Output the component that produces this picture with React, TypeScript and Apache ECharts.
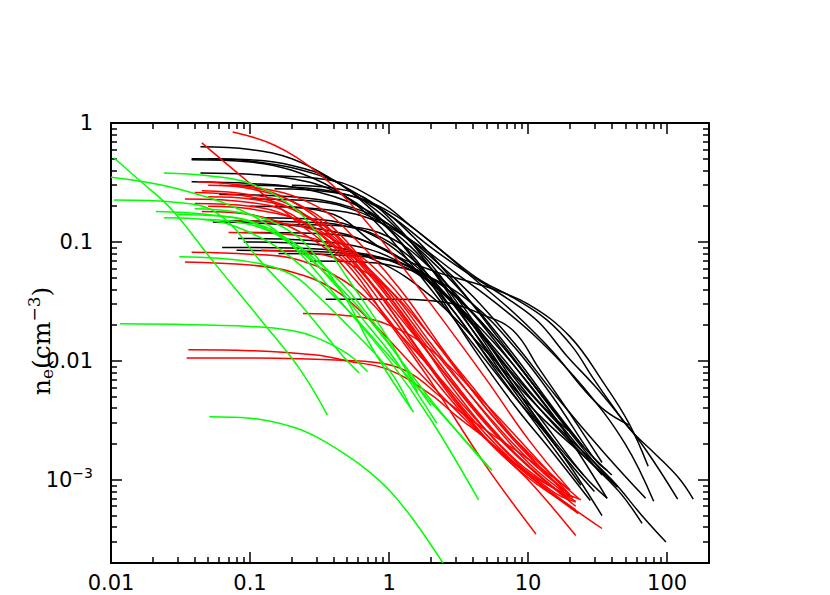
import React, { useEffect, useRef } from 'react';
import * as echarts from 'echarts';

type Pt = [number, number];

// Density profiles n_e(r): black group
const blackProfiles: Pt[][] = [
  [[0.044,0.63],[0.1,0.6],[0.2,0.5],[0.4,0.33],[0.7,0.21],[1,0.15],[2,0.065],[4,0.022],[8,0.0065],[15,0.0024],[25,0.0011],[37,0.0007]],
  [[0.038,0.5],[0.1,0.49],[0.2,0.44],[0.4,0.33],[0.7,0.2],[1,0.13],[2,0.045],[4,0.013],[8,0.0042],[15,0.0017],[28,0.00067]],
  [[0.038,0.49],[0.1,0.47],[0.2,0.4],[0.4,0.28],[0.7,0.17],[1,0.11],[2,0.04],[4,0.014],[8,0.005],[16,0.0019],[34,0.0005]],
  [[0.044,0.38],[0.1,0.37],[0.2,0.34],[0.4,0.27],[0.8,0.16],[1.5,0.075],[3,0.025],[6,0.0085],[12,0.0035],[25,0.0016],[44,0.00087]],
  [[0.12,0.36],[0.38,0.33],[0.86,0.217],[1.49,0.131],[2.6,0.078],[4.5,0.048],[7.8,0.034],[13.7,0.022],[21,0.013],[29,0.0073],[41,0.0041],[55,0.0026],[80,0.0017],[120,0.00105],[154,0.00069]],
  [[0.038,0.32],[0.1,0.31],[0.2,0.29],[0.5,0.22],[1,0.14],[2,0.07],[4,0.03],[8,0.011],[16,0.0037],[25,0.0019]],
  [[0.08,0.3],[0.2,0.29],[0.5,0.25],[1,0.18],[2,0.1],[4,0.05],[8,0.025],[15,0.012],[25,0.0058],[36,0.0038],[53,0.0029]],
  [[0.054,0.147],[0.1,0.145],[0.3,0.13],[0.7,0.1],[1.5,0.06],[3,0.03],[6,0.012],[12,0.0045],[19.5,0.0026]],
  [[0.082,0.107],[0.2,0.105],[0.5,0.095],[1,0.075],[2,0.045],[4,0.02],[8,0.0075],[17.7,0.0027]],
  [[0.063,0.09],[0.2,0.089],[0.5,0.083],[1,0.07],[2,0.045],[4,0.022],[8,0.009],[16,0.0032],[37,0.0007]],
  [[0.16,0.08],[0.4,0.078],[1,0.07],[2,0.05],[4,0.025],[8,0.01],[16,0.0035],[30,0.0014],[44,0.00087]],
  [[0.35,0.033],[1,0.033],[2.6,0.031],[4.5,0.025],[7.8,0.018],[12,0.0086],[20,0.0036],[34,0.0014]],
  [[0.27,0.069],[0.6,0.068],[1,0.064],[2,0.05],[4,0.03],[8,0.013],[15,0.005],[30,0.0015],[37,0.0012]],
  [[0.2,0.3],[0.5,0.27],[1,0.17],[2,0.09],[3.4,0.058],[7.8,0.031],[12,0.021],[19,0.011],[30,0.0062],[45,0.0035],[70,0.0018],[119,0.00069]],
  [[0.09,0.1],[0.3,0.095],[0.8,0.07],[2,0.035],[5,0.012],[10,0.005],[20,0.0022],[40,0.001],[66,0.0005],[98,0.0003]],
  [[0.12,0.16],[0.3,0.155],[0.7,0.12],[1.5,0.065],[3,0.03],[6,0.011],[12,0.004],[25,0.0016],[45,0.0008],[66,0.00043]],
  [[0.1,0.2],[0.3,0.19],[0.7,0.16],[1.5,0.1],[3,0.055],[6,0.03],[12,0.015],[25,0.006],[50,0.002],[80,0.00066]],
  [[0.06,0.25],[0.2,0.24],[0.5,0.2],[1,0.14],[2,0.075],[4,0.035],[8,0.014],[16,0.005],[35,0.0017],[70,0.0007]],
  [[0.15,0.2],[0.4,0.17],[0.86,0.09],[2,0.058],[5,0.042],[10,0.03],[20,0.016],[35,0.0065],[53,0.003],[73,0.0013]],
  [[0.1,0.23],[0.3,0.22],[0.6,0.18],[1,0.13],[2,0.06],[4,0.02],[8,0.006],[15,0.0022],[25,0.0011]],
  [[0.07,0.15],[0.2,0.148],[0.5,0.135],[1,0.1],[2,0.05],[4,0.018],[8,0.006],[16,0.0019],[30,0.0008]],
  [[0.09,0.12],[0.3,0.118],[0.7,0.1],[1.5,0.06],[3,0.025],[6,0.008],[12,0.0027],[24,0.0009]],
  [[0.15,0.28],[0.4,0.26],[0.8,0.2],[1.5,0.11],[3,0.045],[6,0.016],[12,0.0055],[25,0.0019],[40,0.0011]],
  [[0.2,0.14],[0.5,0.135],[1,0.11],[2,0.06],[4,0.025],[8,0.009],[16,0.0032],[34,0.0011]],
  [[0.05,0.5],[0.1,0.48],[0.3,0.37],[0.6,0.25],[1,0.16],[2,0.06],[4,0.018],[8,0.0055],[16,0.0019]],
  [[0.08,0.085],[0.3,0.083],[0.8,0.075],[1.5,0.06],[3,0.035],[6,0.015],[12,0.0055],[20,0.0026]],
];

// red group
const redProfiles: Pt[][] = [
  [[0.075,0.84],[0.15,0.65],[0.3,0.39],[0.5,0.225],[1,0.086],[2,0.03],[5,0.007],[10,0.0022],[20,0.00082]],
  [[0.045,0.68],[0.1,0.31],[0.2,0.16],[0.5,0.065],[1,0.021],[2,0.0067],[5,0.0013],[11.4,0.00035]],
  [[0.036,0.0124],[0.1,0.0122],[0.3,0.0112],[0.5,0.01],[1,0.0084],[2,0.0052],[3,0.0035],[5,0.0022],[10,0.0011],[22,0.00056]],
  [[0.035,0.0106],[0.1,0.0106],[0.5,0.0101],[1,0.0093],[1.5,0.0076],[2.5,0.0047],[5,0.0026],[10,0.0015],[20,0.00082]],
  [[0.24,0.025],[0.5,0.024],[1,0.02],[2,0.0124],[5,0.0043],[10,0.0018],[20,0.00075]],
  [[0.038,0.082],[0.1,0.079],[0.2,0.073],[0.4,0.053],[0.7,0.033],[1,0.021],[2,0.0087],[5,0.0026],[10,0.0012],[22,0.00066]],
  [[0.034,0.068],[0.1,0.064],[0.2,0.056],[0.4,0.04],[0.7,0.023],[1,0.015],[2,0.0063],[5,0.0022],[12,0.001],[24,0.00068]],
  [[0.042,0.32],[0.1,0.29],[0.2,0.22],[0.4,0.12],[0.7,0.06],[1,0.038],[2,0.013],[5,0.0036],[10,0.0015],[20,0.00075]],
  [[0.04,0.26],[0.1,0.24],[0.2,0.19],[0.4,0.11],[0.7,0.055],[1,0.033],[2,0.011],[5,0.0029],[10,0.0013],[22,0.0006]],
  [[0.034,0.23],[0.1,0.215],[0.2,0.17],[0.5,0.07],[1,0.025],[2,0.0085],[5,0.0024],[10,0.0011],[23,0.00052]],
  [[0.05,0.2],[0.1,0.19],[0.3,0.13],[0.6,0.06],[1,0.03],[2,0.011],[5,0.003],[10,0.0013],[20,0.00068]],
  [[0.045,0.18],[0.1,0.17],[0.3,0.1],[0.6,0.045],[1,0.022],[2,0.0075],[5,0.0022],[10,0.0011],[20,0.0006],[34,0.00039]],
  [[0.06,0.3],[0.1,0.28],[0.2,0.22],[0.4,0.13],[0.8,0.05],[1.5,0.018],[3,0.0055],[7,0.0017],[15,0.0008],[22,0.00065]],
  [[0.045,0.27],[0.1,0.25],[0.2,0.2],[0.5,0.08],[1,0.028],[2,0.009],[5,0.0022],[10,0.001],[22,0.00034]],
  [[0.08,0.15],[0.2,0.14],[0.5,0.09],[1,0.045],[2,0.016],[5,0.004],[10,0.0016],[21,0.0007]],
  [[0.04,0.21],[0.1,0.2],[0.2,0.16],[0.4,0.095],[0.8,0.04],[1.5,0.014],[3,0.0045],[8,0.0013],[18,0.00065]],
  [[0.05,0.24],[0.1,0.23],[0.3,0.15],[0.6,0.07],[1,0.035],[2,0.012],[4,0.0042],[8,0.0017],[19,0.0007]],
  [[0.12,0.085],[0.3,0.08],[0.6,0.06],[1,0.04],[2,0.016],[4,0.006],[8,0.0022],[18,0.0008]],
  [[0.07,0.12],[0.2,0.115],[0.5,0.08],[1,0.04],[2,0.014],[5,0.0035],[10,0.0014],[20,0.00072]],
  [[0.05,0.3],[0.1,0.29],[0.3,0.2],[0.6,0.1],[1.2,0.04],[2.5,0.012],[5,0.004],[10,0.0017],[23,0.0007]],
];

// green group
const greenProfiles: Pt[][] = [
  [[0.0105,0.51],[0.016,0.33],[0.027,0.19],[0.053,0.071],[0.12,0.022],[0.23,0.0084],[0.36,0.0035]],
  [[0.01,0.35],[0.03,0.28],[0.1,0.17],[0.2,0.094],[0.5,0.027],[1,0.0102],[2,0.0032],[4.4,0.00068]],
  [[0.024,0.38],[0.05,0.36],[0.1,0.31],[0.2,0.2],[0.3,0.12],[0.5,0.05],[1,0.015],[1.6,0.0055]],
  [[0.0105,0.225],[0.03,0.215],[0.06,0.17],[0.12,0.068],[0.23,0.03],[0.45,0.0115],[0.61,0.0079]],
  [[0.021,0.18],[0.05,0.17],[0.1,0.147],[0.2,0.094],[0.5,0.036],[1,0.0137],[2,0.0047],[5.1,0.0013]],
  [[0.024,0.16],[0.05,0.153],[0.1,0.12],[0.2,0.073],[0.5,0.027],[1,0.011],[2,0.0045],[5.5,0.0012]],
  [[0.031,0.075],[0.1,0.068],[0.2,0.053],[0.3,0.036],[0.5,0.02],[1,0.0084],[1.42,0.0041]],
  [[0.0116,0.0205],[0.1,0.0195],[0.2,0.018],[0.3,0.0157],[0.5,0.0115],[0.7,0.0081]],
  [[0.051,0.0034],[0.1,0.0033],[0.2,0.0028],[0.3,0.0023],[0.5,0.0016],[0.7,0.0012],[1,0.00082],[1.5,0.00046],[2.44,0.0002]],
  [[0.03,0.17],[0.06,0.165],[0.1,0.15],[0.2,0.1],[0.4,0.045],[0.7,0.02],[1,0.012],[1.5,0.006],[2.2,0.003]],
  [[0.045,0.155],[0.1,0.14],[0.2,0.1],[0.3,0.07],[0.5,0.04],[1,0.014],[1.5,0.0068],[2,0.0042]],
  [[0.04,0.19],[0.1,0.17],[0.2,0.12],[0.3,0.075],[0.5,0.032],[0.7,0.015],[1,0.0075],[1.5,0.0037]],
];

const xRange = [0.01, 200];
const yRange = [2e-4, 1];
const xMajorTicks = [0.01, 0.1, 1, 10, 100];
const xTickLabels = ['0.01', '0.1', '1', '10', '100'];
const yMajorTicks = [0.001, 0.01, 0.1, 1];
const yTickLabels = ['10{sup|\u22123}', '0.01', '0.1', '1'];

const L = (v: number) => Math.log10(v);

function minorTicks(lo: number, hi: number): number[] {
  const out: number[] = [];
  for (let d = Math.floor(L(lo)); d <= Math.ceil(L(hi)); d++) {
    for (let k = 2; k <= 9; k++) {
      const v = k * Math.pow(10, d);
      if (v > lo * 1.0001 && v < hi * 0.9999) out.push(L(v));
    }
  }
  return out;
}

const findLabel = (ticks: number[], labels: string[], v: number) => {
  const i = ticks.findIndex((t) => Math.abs(L(t) - v) < 1e-6);
  return i >= 0 ? labels[i] : '';
};

const labelStyle = { fontFamily: 'DejaVu Sans', fontSize: 21, color: '#000' };

function makeAxis(dim: 'x' | 'y', position: string, major: boolean, withLabels: boolean) {
  const range = dim === 'x' ? xRange : yRange;
  const majors = dim === 'x' ? xMajorTicks : yMajorTicks;
  const labels = dim === 'x' ? xTickLabels : yTickLabels;
  const tickVals = major ? majors.map(L) : minorTicks(range[0], range[1]);
  return {
    type: 'value',
    gridIndex: 0,
    position,
    min: L(range[0]),
    max: L(range[1]),
    axisLine: { show: major, onZero: false, lineStyle: { color: '#000', width: 2 } },
    axisTick: {
      show: true,
      inside: true,
      length: major ? 11 : 6,
      customValues: tickVals,
      lineStyle: { color: '#000', width: 1.5 },
    },
    axisLabel: withLabels
      ? {
          show: true,
          customValues: majors.map(L),
          formatter: (v: number) => findLabel(majors, labels, v),
          margin: dim === 'x' ? 9 : 18,
          ...labelStyle,
          rich: {
            sup: { fontFamily: 'DejaVu Sans', fontSize: 14, color: '#000', padding: [0, 0, 13, 0] },
          },
        }
      : { show: false },
    splitLine: { show: false },
    axisPointer: { show: false },
  };
}

const mkSeries = (pts: Pt[], color: string) => ({
  type: 'line',
  data: pts.map(([x, y]) => [L(x), L(y)]),
  showSymbol: false,
  symbol: 'none',
  smooth: 0.4,
  lineStyle: { color, width: 1.5 },
  itemStyle: { color },
  silent: true,
  emphasis: { disabled: true },
  clip: true,
});

export default function App() {
  const ref = useRef<HTMLDivElement>(null);
  useEffect(() => {
    if (!ref.current) return;
    const chart = echarts.init(ref.current, undefined, { renderer: 'svg' });
    chart.setOption({
      animation: false,
      backgroundColor: '#fff',
      grid: { left: 111, top: 123, right: 121, bottom: 32 },
      xAxis: [
        makeAxis('x', 'bottom', true, true),
        makeAxis('x', 'bottom', false, false),
        makeAxis('x', 'top', true, false),
        makeAxis('x', 'top', false, false),
      ],
      yAxis: [
        makeAxis('y', 'left', true, true),
        makeAxis('y', 'left', false, false),
        makeAxis('y', 'right', true, false),
        makeAxis('y', 'right', false, false),
      ],
      series: [
        ...blackProfiles.map((p) => mkSeries(p, '#000000')),
        ...redProfiles.map((p) => mkSeries(p, '#ff0000')),
        ...greenProfiles.map((p) => mkSeries(p, '#00ff00')),
      ],
      graphic: [
        {
          type: 'text',
          x: 41,
          y: 341,
          rotation: Math.PI / 2,
          silent: true,
          style: {
            text: '{a|n}{sub|e}{a|(cm}{sup|\u22123}{a|)}',
            align: 'center',
            verticalAlign: 'middle',
            fill: '#000',
            rich: {
              a: { fontFamily: 'DejaVu Serif', fontSize: 25, fill: '#000' },
              sub: { fontFamily: 'DejaVu Serif', fontSize: 17, fill: '#000', padding: [12, 0, 0, 0] },
              sup: { fontFamily: 'DejaVu Serif', fontSize: 17, fill: '#000', padding: [0, 0, 15, 0] },
            },
          },
        },
      ],
    });
    return () => chart.dispose();
  }, []);
  return (
    <div
      ref={ref}
      style={{ position: 'absolute', left: 0, top: 0, width: 830, height: 595, background: '#fff' }}
    />
  );
}
